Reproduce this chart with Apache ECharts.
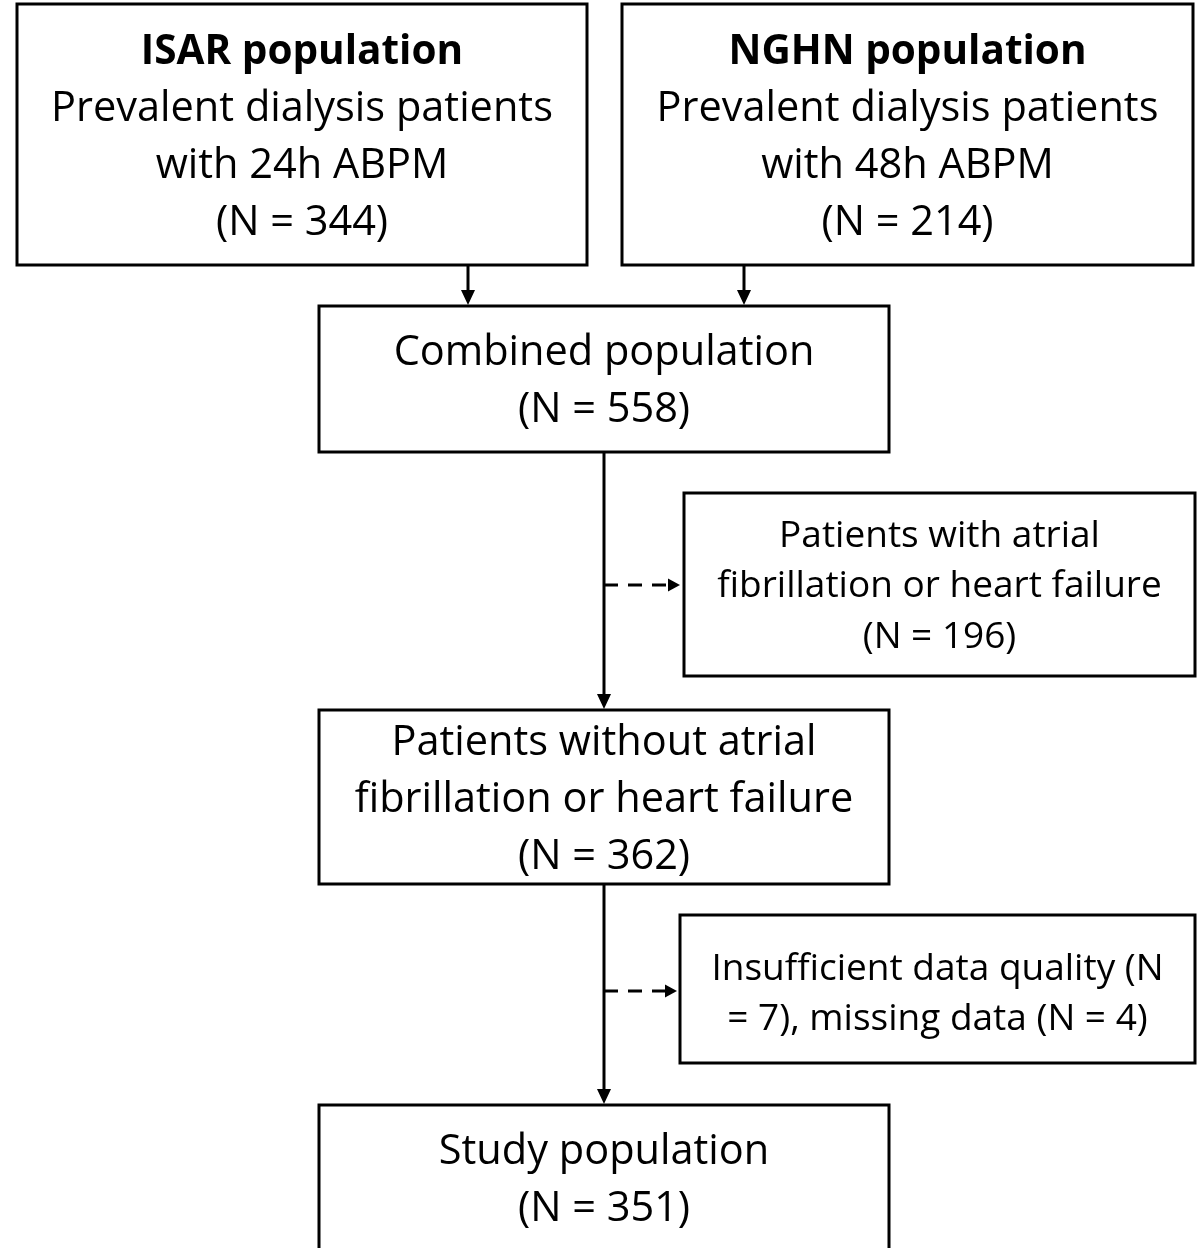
<!DOCTYPE html>
<html>
<head>
<meta charset="utf-8">
<script src="https://cdn.jsdelivr.net/npm/echarts@6/dist/echarts.min.js"></script>
<style>
	html, body { margin: 0; background: #fff; }
	#flow { width: 1197px; height: 1248px; }
</style>
</head>
<body>
<div id="flow"></div>
<script>
	// box contents
	const boxTitles = ['ISAR population', 'NGHN population', '', '', '', '', '']
	const boxLines = [
		['Prevalent dialysis patients', 'with 24h ABPM'],
		['Prevalent dialysis patients', 'with 48h ABPM'],
		['Combined population'],
		['Patients with atrial', 'fibrillation or heart failure'],
		['Patients without atrial', 'fibrillation or heart failure'],
		['Insufficient data quality (N', '= 7), missing data (N = 4)'],
		['Study population']
	]
	const boxCounts = [344, 214, 558, 196, 362, null, 351]

	// layout, in axis units (1 unit = 1 px)
	const boxRects = [
		[17, 4, 587, 265], [622, 4, 1193, 265], [319, 306, 889, 452],
		[684, 493, 1195, 676], [319, 710, 889, 884], [680, 915, 1195, 1063],
		[319, 1105, 889, 1262]
	]
	const boxFirstLine = [52, 52, 353, 536, 743, 969, 1152]
	const boxSide = [false, false, false, true, false, true, false]
	// [x1, y1, x2, y2, dashed]
	const links = [
		[468, 265, 468, 305, 0], [744, 265, 744, 305, 0],
		[604, 452, 604, 709, 0], [604, 884, 604, 1104, 0],
		[604, 585, 680, 585, 1], [604, 991, 677, 991, 1]
	]

	const FONT = '"Open Sans", Lato, sans-serif'

	let flow = echarts.init(document.getElementById('flow'))

	function boxItem(params, api) {
		let i = api.value(0)
		let r = boxRects[i]
		let p0 = api.coord([r[0], r[1]])
		let p1 = api.coord([r[2], r[3]])
		let side = boxSide[i]
		let size = side ? 37 : 41.5
		let gap = side ? 50.5 : 57
		let cx = (p0[0] + p1[0]) / 2
		let rows = []
		if (boxTitles[i]) rows.push({t: boxTitles[i], bold: true})
		boxLines[i].forEach(t => rows.push({t: t}))
		if (boxCounts[i] !== null) rows.push({t: '(N = ' + boxCounts[i] + ')'})
		let y0 = api.coord([0, boxFirstLine[i]])[1]
		let children = [{
			type: 'rect',
			shape: {x: p0[0], y: p0[1], width: p1[0] - p0[0], height: p1[1] - p0[1]},
			style: {fill: '#fff', stroke: '#000', lineWidth: 3}
		}]
		rows.forEach((row, k) => {
			children.push({
				type: 'text',
				style: {
					text: row.t, x: cx, y: y0 + k * gap,
					align: 'center', verticalAlign: 'middle',
					fontFamily: FONT, fontSize: row.bold ? 40.5 : size,
					fontWeight: row.bold ? 'bold' : 'normal',
					fill: '#000'
				}
			})
		})
		return {type: 'group', children: children}
	}

	function linkItem(params, api) {
		let l = links[params.dataIndex]
		let a = api.coord([l[0], l[1]])
		let b = api.coord([l[2], l[3]])
		let dashed = l[4] === 1
		let head = dashed ? 12 : 15
		let half = dashed ? 6.5 : 7
		let horiz = a[1] === b[1]
		let children = []
		if (horiz) {
			children.push({
				type: 'line',
				shape: {x1: a[0], y1: a[1], x2: b[0] - head, y2: b[1]},
				style: {stroke: '#000', lineWidth: 3, lineDash: dashed ? [14, 10] : null}
			})
			children.push({
				type: 'polygon',
				shape: {points: [[b[0], b[1]], [b[0] - head, b[1] - half], [b[0] - head, b[1] + half]]},
				style: {fill: '#000'}
			})
		} else {
			children.push({
				type: 'line',
				shape: {x1: a[0], y1: a[1], x2: b[0], y2: b[1] - head},
				style: {stroke: '#000', lineWidth: 3}
			})
			children.push({
				type: 'polygon',
				shape: {points: [[b[0], b[1]], [b[0] - half, b[1] - head], [b[0] + half, b[1] - head]]},
				style: {fill: '#000'}
			})
		}
		return {type: 'group', children: children}
	}

	flow.setOption({
		animation: false,
		grid: {left: 0, right: 0, top: 0, bottom: 0},
		xAxis: {type: 'value', min: 0, max: 1197, show: false},
		yAxis: {type: 'value', min: 0, max: 1248, inverse: true, show: false},
		series: [
			{
				type: 'custom',
				clip: true,
				renderItem: linkItem,
				data: links.map((l, i) => [i])
			},
			{
				type: 'custom',
				clip: true,
				renderItem: boxItem,
				data: boxRects.map((r, i) => [i])
			}
		]
	})
</script>
</body>
</html>
